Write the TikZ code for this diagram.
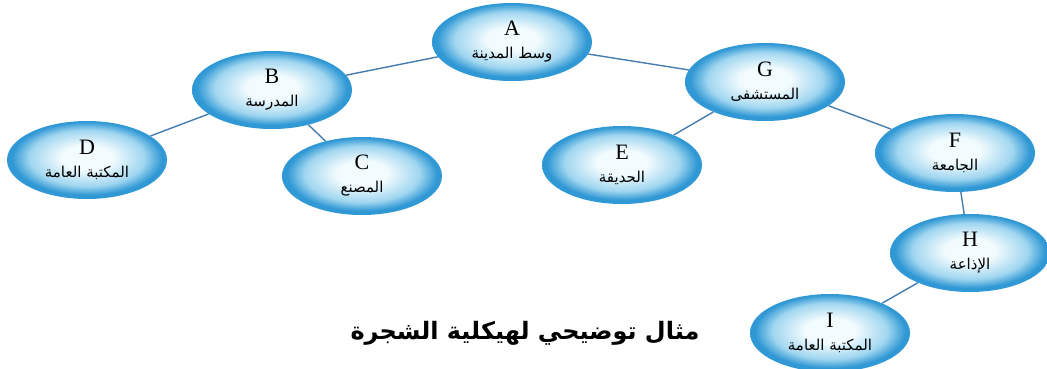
\documentclass[tikz,border=0pt]{standalone}
\usepackage{fontspec}
\setmainfont{Liberation Serif}
\newfontfamily\arabicfont[Script=Arabic]{DejaVu Sans}
\TeXXeTstate=1
\usepackage{xcolor}
\usetikzlibrary{positioning,shapes.geometric}

\definecolor{bubbleIn}{RGB}{242,251,254}
\definecolor{bubbleMid}{RGB}{160,214,240}
\definecolor{bubbleOut}{RGB}{48,152,212}
\definecolor{linkBlue}{RGB}{70,125,175}

\pgfdeclareradialshading{bubble}{\pgfpoint{0bp}{2bp}}{%
  color(0bp)=(bubbleIn); color(8bp)=(bubbleIn); color(18bp)=(bubbleMid);
  color(23.5bp)=(bubbleOut); color(25bp)=(bubbleOut); color(50bp)=(bubbleOut)}

\newcommand{\arlabel}[1]{{\arabicfont\fontsize{15}{17}\selectfont\beginR #1\endR}}
\newcommand{\letterlabel}[1]{{\fontsize{22}{22}\selectfont #1}}

\begin{document}
\begin{tikzpicture}[
    x=1pt, y=1pt, on grid,
    place/.style={ellipse, shading=bubble, minimum width=160pt, minimum height=78pt, inner sep=0pt, align=center, font=\fontsize{22}{23}\selectfont},
    link/.style={draw=linkBlue, line width=1.4pt},
    title/.style={font=\arabicfont\bfseries\fontsize{24}{28}\selectfont}
]
\useasboundingbox (0,0) rectangle (1047,-368);

% Root
\node[place] (A) at (512,-42) {\letterlabel{A}\\\arlabel{وسط المدينة}};

% Left subtree
\node[place, below left=48pt and 240pt of A] (B) {\letterlabel{B}\\\arlabel{المدرسة}};
\node[place, below left=70pt and 185pt of B] (D) {\letterlabel{D}\\\arlabel{المكتبة العامة}};
\node[place, below right=86pt and 90pt of B] (C) {\letterlabel{C}\\\arlabel{المصنع}};

% Right subtree
\node[place, below right=40pt and 253pt of A] (G) {\letterlabel{G}\\\arlabel{المستشفى}};
\node[place, below left=83pt and 143pt of G] (E) {\letterlabel{E}\\\arlabel{الحديقة}};
\node[place, below right=71pt and 190pt of G] (F) {\letterlabel{F}\\\arlabel{الجامعة}};
\node[place, below right=100pt and 15pt of F] (H) {\letterlabel{H}\\\arlabel{الإذاعة}};
\node[place, below left=80pt and 140pt of H] (I) {\letterlabel{I}\\\arlabel{المكتبة العامة}};

% Caption
\node[title, left=305pt of I] (caption) {\beginR مثال توضيحي لهيكلية الشجرة\endR};

% Links
\draw[link] (A) -- (B);
\draw[link] (B) -- (D);
\draw[link] (B) -- (C);
\draw[link] (A) -- (G);
\draw[link] (G) -- (E);
\draw[link] (G) -- (F);
\draw[link] (F) -- (H);
\draw[link] (H) -- (I);

\end{tikzpicture}
\end{document}
